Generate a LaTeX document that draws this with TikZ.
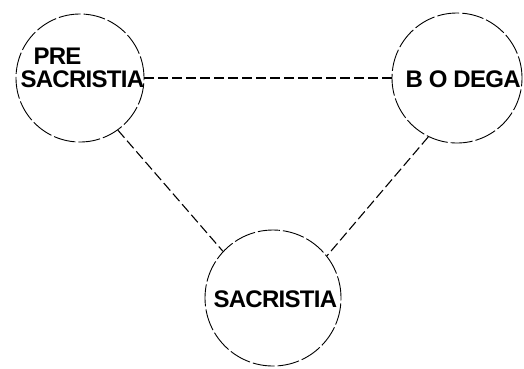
\documentclass[tikz,border=0pt]{standalone}
\usepackage{fontspec}
\setmainfont{Liberation Sans}[LetterSpace=-3]
\usetikzlibrary{shapes}

\tikzset{
  room/.style={draw,circle,inner sep=0pt,line width=0.9pt,dash pattern=on 22pt off 3pt},
  roomname/.style={inner sep=0pt,font=\fontsize{24}{23}\selectfont\bfseries},
  passage/.style={dash pattern=on 10pt off 4pt}
}

\begin{document}
\begin{tikzpicture}[x=1pt,y=-1pt,line width=1.1pt]
  \useasboundingbox (0,0) rectangle (524,368);
  \node[room,minimum size=128pt] (PRE) at (80,78) {};
  \node[room,minimum size=130pt] (BOD) at (457,78) {};
  \node[room,minimum size=136pt] (SAC) at (273,298) {};
  %% names
  \node[roomname,align=left,anchor=west] (PREtxt) at (20,68) {
    \hspace*{13pt}PRE\\SACRISTIA
  };
  \node[roomname,anchor=west] (BODtxt) at (405,79) {B O DEGA};
  \node[roomname,anchor=west] (SACtxt) at (213,299) {SACRISTIA};
  \path[passage] (PRE) edge (BOD);
  \path[passage] (PRE.-54) edge (SAC.137) (BOD.-116) edge (SAC.38);
\end{tikzpicture}
\end{document}
